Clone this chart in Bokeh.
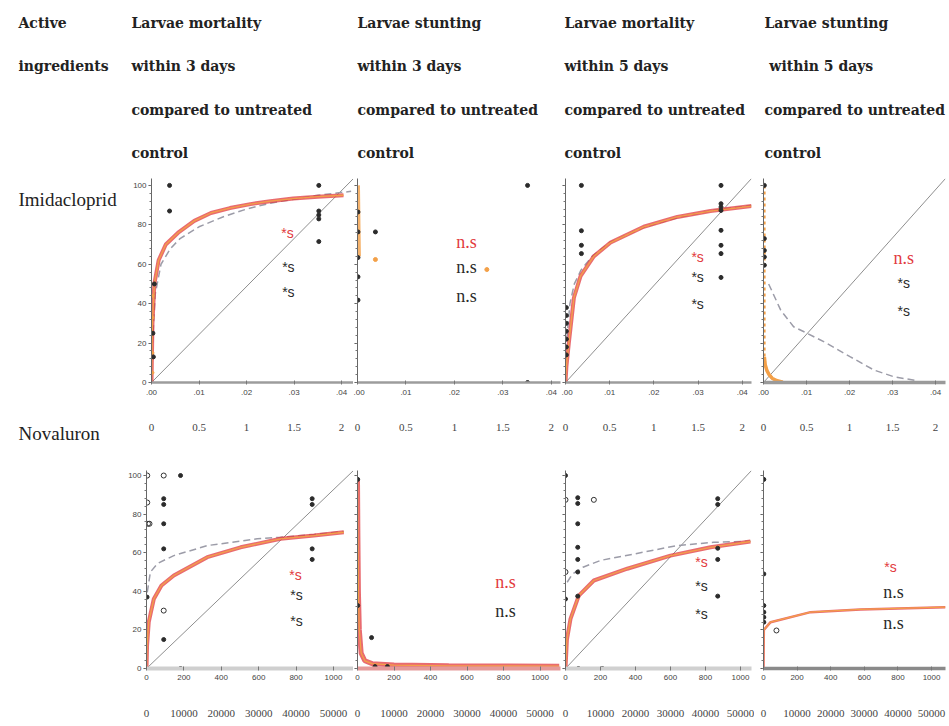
from bokeh.plotting import figure
from bokeh.layouts import row, column
from bokeh.models import Range1d, LinearAxis, FixedTicker
from bokeh.core.properties import value
from bokeh.embed import file_html
from bokeh.resources import INLINE

# ---------------- texts ----------------
row_header = ["Active", "ingredients"]
col_headers = [
    ["Larvae mortality", "within 3 days", "compared to untreated", "control"],
    ["Larvae stunting", "within 3 days", "compared to untreated", "control"],
    ["Larvae mortality", "within 5 days", "compared to untreated", "control"],
    ["Larvae stunting", "\u00a0within 5 days", "compared to untreated", "control"],
]
ingredients = ["Imidacloprid", "Novaluron"]

# ---------------- ticks ----------------
imi_ticks = [0, 0.01, 0.02, 0.03, 0.04]
imi_tick_labels = [".00", ".01", ".02", ".03", ".04"]
imi_alt_ticks = [0, 0.5, 1, 1.5, 2]
imi_alt_labels = ["0", "0.5", "1", "1.5", "2"]
nov_ticks = [0, 200, 400, 600, 800, 1000]
nov_tick_labels = ["0", "200", "400", "600", "800", "1000"]
nov_alt_ticks = [0, 10000, 20000, 30000, 40000, 50000]
nov_alt_labels = ["0", "10000", "20000", "30000", "40000", "50000"]
y_ticks = [0, 20, 40, 60, 80, 100]
y_tick_labels = ["0", "20", "40", "60", "80", "100"]

# ---------------- Imidacloprid, mortality 3 days ----------------
im3_fit_x = [0, 0.0002, 0.0006, 0.0015, 0.003, 0.0056, 0.009, 0.0125, 0.0165, 0.0208, 0.025, 0.0298, 0.035, 0.0404]
im3_fit_y = [0, 30, 50, 62, 70, 76, 82, 86, 88.5, 90.5, 92, 93.3, 94.3, 95]
im3_ref_x = [0.0002, 0.0008, 0.002, 0.004, 0.006, 0.01, 0.015, 0.02, 0.025, 0.03, 0.035, 0.042]
im3_ref_y = [20, 45, 60, 68, 73, 79, 84, 88, 91, 93, 95, 97]
im3_pts_x = [0.0038, 0.0038, 0.0352, 0.0352, 0.0352, 0.0352, 0.0352, 0.0006, 0.0003, 0.0004]
im3_pts_y = [100, 87, 100, 87, 85, 83, 71.5, 50, 25, 13]
im3_org_x = [0.0002, 0.0002, 0.0002, 0.0002]
im3_org_y = [5, 15, 33, 44]
im3_notes = ["*s", "*s", "*s"]
im3_note_x = [0.0286, 0.0288, 0.0288]
im3_note_y = [76, 58.5, 45.8]

# ---------------- Imidacloprid, stunting 3 days ----------------
is3_fit_x = [0.0001, 0.0002, 0.0003]
is3_fit_y = [100, 80, 64]
is3_pts_x = [0.0001, 0.0001, 0.0001, 0.0001, 0.0001, 0.0037, 0.0351, 0.0351]
is3_pts_y = [86.5, 76.4, 63.4, 53.6, 41.8, 76.4, 100, 0]
is3_org_x = [0.0037, 0.0267]
is3_org_y = [62.4, 57.3]
is3_notes = ["n.s", "n.s", "n.s"]
is3_note_x = [0.0225, 0.0225, 0.0225]
is3_note_y = [71.1, 58.5, 43.8]

# ---------------- Imidacloprid, mortality 5 days ----------------
im5_fit_x = [0, 0.0002, 0.00075, 0.0019, 0.0034, 0.0064, 0.0102, 0.0177, 0.0253, 0.0328, 0.0421]
im5_fit_y = [0, 8, 20, 43, 54, 64, 71, 79, 84, 87, 89.5]
im5_ref_x = [0.0003, 0.001, 0.002, 0.0035, 0.006, 0.01, 0.018, 0.026, 0.034, 0.0421]
im5_ref_y = [22, 40, 50, 57, 64, 71, 79, 84, 87.5, 89.8]
im5_pts_x = [0.0036, 0.0036, 0.0036, 0.0036, 0.0352, 0.0352, 0.0352, 0.0352, 0.0352, 0.0352, 0.0352,
             0.0352, 0.0002, 0.0002, 0.0002, 0.0002, 0.0002, 0.0002, 0.0002]
im5_pts_y = [100, 77, 69.6, 65.4, 100, 90.7, 89, 87.3, 77.2, 69.6, 65.4, 53.3, 38, 34, 30, 26, 22, 18, 14]
im5_notes = ["*s", "*s", "*s"]
im5_note_x = [0.0299, 0.0299, 0.0299]
im5_note_y = [63.5, 53.4, 39.7]

# ---------------- Imidacloprid, stunting 5 days ----------------
is5_fit_x = [0.0002, 0.0002, 0.0004, 0.0008, 0.0013, 0.002, 0.003, 0.0045]
is5_fit_y = [100, 13, 9, 6, 4, 2.2, 1, 0.2]
is5_ref_x = [0.0012, 0.004, 0.007, 0.0102, 0.0148, 0.0202, 0.0257, 0.0303, 0.0357]
is5_ref_y = [50, 36.7, 28.3, 24.9, 19.8, 13, 6.3, 2.9, 0.9]
is5_pts_x = [0.0002, 0.0002, 0.0002, 0.0002, 0.0002]
is5_pts_y = [100, 73, 67, 63.7, 59.5]
is5_notes = ["n.s", "*s", "*s"]
is5_note_x = [0.0326, 0.0326, 0.0326]
is5_note_y = [63, 50.4, 36.2]

# ---------------- Novaluron, mortality 3 days ----------------
nm3_fit_x = [0, 3, 12, 39, 80, 146, 325, 503, 717, 895, 1055]
nm3_fit_y = [0, 12, 24, 36, 43, 48.2, 57.7, 62.8, 67.2, 68.9, 70.6]
nm3_ref_x = [4, 21, 60, 146, 325, 592, 717, 900, 1055]
nm3_ref_y = [39.5, 50, 54.5, 58.5, 63.7, 67.2, 68, 69.5, 71]
nm3_pts_x = [182, 92, 92, 92, 92, 886, 886, 886, 886, 92, 182, 3]
nm3_pts_y = [100, 88, 85, 75, 62, 88, 85, 62, 56.5, 15, 0, 37]
nm3_open_x = [4, 92, 4, 8, 16, 92]
nm3_open_y = [100, 100, 86, 75, 75, 30]
nm3_notes = ["*s", "*s", "*s"]
nm3_note_x = [797, 802, 802]
nm3_note_y = [48.7, 38.3, 24.4]

# ---------------- Novaluron, stunting 3 days ----------------
ns3_fit_x = [0, 2, 5, 10, 20, 40, 80, 200, 500, 1105]
ns3_fit_y = [98, 70, 40, 20, 8, 4, 2.5, 1.8, 1.4, 1.2]
ns3_pts_x = [1, 1, 77, 96, 164]
ns3_pts_y = [98, 32.6, 16, 1, 1]
ns3_notes = ["n.s", "n.s"]
ns3_note_x = [811, 811]
ns3_note_y = [45, 30]

# ---------------- Novaluron, mortality 5 days ----------------
nm5_fit_x = [0, 8, 28.6, 76, 162, 353, 600, 829, 1057]
nm5_fit_y = [0, 15, 25.7, 37.8, 45.6, 51.7, 58.5, 62.8, 65.8]
nm5_ref_x = [9.5, 40, 100, 200, 447, 638, 847, 1057]
nm5_ref_y = [44.7, 49, 52.5, 56, 60.3, 63.7, 65.4, 66]
nm5_pts_x = [70, 70, 70, 70, 70, 70, 70, 0, 870, 870, 870, 870, 870, 0, 74, 211]
nm5_pts_y = [88.5, 85.5, 75, 62.8, 56.5, 50, 37.5, 36, 88, 85, 62.3, 56.5, 37.5, 100, 0, 0]
nm5_open_x = [0, 162, 0]
nm5_open_y = [87.4, 87.4, 50]
nm5_notes = ["*s", "*s", "*s"]
nm5_note_x = [777, 777, 777]
nm5_note_y = [55.4, 43, 28.5]

# ---------------- Novaluron, stunting 5 days ----------------
ns5_fit_x = [0, 2, 42, 280, 577, 1083]
ns5_fit_y = [0, 20, 24, 29.2, 30.6, 31.8]
ns5_pts_x = [2, 2, 2, 2, 2, 2]
ns5_pts_y = [98, 49, 32.6, 29.2, 26.6, 24]
ns5_open_x = [77]
ns5_open_y = [19.7]
ns5_notes = ["*s", "n.s", "n.s"]
ns5_note_x = [756, 774, 774]
ns5_note_y = [52.8, 39.4, 23.8]

# ---------------- styles ----------------
RED = "#e23a40"
ORANGE = "#f3a048"
DARK = "#2b2b2b"
GREY_DASH = "#9c9ca8"
NOTE_COLORS = [RED, DARK, DARK]
SERIF = "Liberation Serif"
BOLD_SERIF = "DejaVu Serif"
SANS = "Liberation Sans"


def make_panel(width, height, left, right, top, bottom, x_end, y_end, ticks, tick_labels,
               alt_ticks, alt_labels, show_y_labels, x_line_color, x_line_width,
               std_main, std_alt):
    p = figure(width=width, height=height, x_range=Range1d(0, x_end), y_range=Range1d(0, y_end),
               output_backend="svg", toolbar_location=None,
               min_border_left=left, min_border_right=right,
               min_border_top=top, min_border_bottom=bottom)
    p.outline_line_color = None
    p.grid.visible = False
    p.background_fill_color = "white"
    p.border_fill_color = "white"

    xa = p.xaxis[0]
    xa.ticker = FixedTicker(ticks=ticks)
    xa.major_label_overrides = dict(zip(ticks, tick_labels))
    xa.axis_line_color = x_line_color
    xa.axis_line_width = x_line_width
    xa.major_tick_line_color = "#777777"
    xa.major_tick_in = 2
    xa.major_tick_out = 2
    xa.minor_tick_line_color = None
    xa.minor_tick_out = 0
    xa.minor_tick_in = 0
    xa.major_label_standoff = std_main
    xa.major_label_text_font = SANS
    xa.major_label_text_font_size = "8px"
    xa.major_label_text_color = "#444444"

    ya = p.yaxis[0]
    ya.ticker = FixedTicker(ticks=y_ticks, minor_ticks=list(range(0, 104, 4)))
    ya.axis_line_color = "#666666"
    ya.axis_line_width = 1
    ya.major_tick_line_color = "#555555"
    ya.major_tick_out = 3
    ya.major_tick_in = 0
    ya.minor_tick_line_color = "#777777"
    ya.minor_tick_out = 2
    ya.minor_tick_in = 0
    if show_y_labels:
        ya.major_label_overrides = dict(zip(y_ticks, y_tick_labels))
        ya.major_label_text_font = SANS
        ya.major_label_text_font_size = "8px"
        ya.major_label_text_color = "#444444"
        ya.major_label_standoff = 2
    else:
        ya.major_label_overrides = {t: "" for t in y_ticks}
        ya.major_label_text_font_size = "0px"
        ya.major_label_standoff = 0

    p.extra_x_ranges = {"alt": Range1d(0, x_end * 50)}
    alt = LinearAxis(x_range_name="alt", ticker=FixedTicker(ticks=alt_ticks))
    alt.major_label_overrides = dict(zip(alt_ticks, alt_labels))
    alt.axis_line_color = None
    alt.major_tick_line_color = None
    alt.minor_tick_line_color = None
    alt.major_tick_in = 0
    alt.major_tick_out = 0
    alt.minor_tick_in = 0
    alt.minor_tick_out = 0
    alt.major_label_standoff = std_alt
    alt.major_label_text_font = SERIF
    alt.major_label_text_font_size = "11px"
    alt.major_label_text_color = "#444444"
    p.add_layout(alt, "below")
    return p


def diag(p, x_end, y_end):
    p.line([0, x_end], [0, y_end], color="#8e8e8e", line_width=1)


def fit(p, x, y, w=4.0):
    p.line(x, y, color=RED, line_width=w, alpha=0.75)
    p.line(x, y, color=ORANGE, line_width=1.3)


def ref(p, x, y):
    p.line(x, y, color=GREY_DASH, line_width=1.5, line_dash="7 4")


def dots(p, x, y, color=DARK, size=4):
    p.scatter(x, y, size=size, color=color)


def rings(p, x, y):
    p.scatter(x, y, size=5, fill_color=None, line_color="#333333", line_width=1)


def notes(p, x, y, texts):
    for xi, yi, t, c in zip(x, y, texts, NOTE_COLORS):
        if t.startswith("*"):
            p.text([xi], [yi], text=[t], text_color=c, text_font=value(SANS),
                   text_font_size="14px", text_align="center", text_baseline="middle")
        else:
            p.text([xi], [yi], text=[t], text_color=c, text_font=value(SERIF),
                   text_font_size="18px", text_align="center", text_baseline="middle")


# ---------------- layout geometry ----------------
H1, T1, B1, Y1 = 270, 8, 58, 103.5
H2, T2, B2, Y2 = 286, 30, 58, 102.6
geo1 = [(231, 29, 0, 0.0425), (208, 4, 1, 0.0419), (193, 4, 3, 0.0421), (195, 9, 4, 0.0423)]
geo2 = [(231, 24, 0, 1107), (208, 4, 1, 1112), (193, 4, 3, 1063), (195, 9, 4, 1083)]
xcol1 = ["#9c9c9c", "#9c9c9c", "#9c9c9c", "#9a9a9a"]
xw1 = [2.5, 2.5, 2.5, 3.5]
xcol2 = ["#cfcfcf", "#e59a9a", "#d0d0d0", "#8a8a8a"]
xw2 = [4, 4, 4, 3.5]

r1 = []
for i, (w, l, r, xe) in enumerate(geo1):
    r1.append(make_panel(w, H1, l, r, T1, B1, xe, Y1, imi_ticks, imi_tick_labels,
                         imi_alt_ticks, imi_alt_labels, i == 0, xcol1[i], xw1[i], 5, 26))
r2 = []
for i, (w, l, r, xe) in enumerate(geo2):
    r2.append(make_panel(w, H2, l, r, T2, B2, xe, Y2, nov_ticks, nov_tick_labels,
                         nov_alt_ticks, nov_alt_labels, i == 0, xcol2[i], xw2[i], 4, 27))

# row 1 content
p = r1[0]
diag(p, geo1[0][3], Y1)
ref(p, im3_ref_x, im3_ref_y)
fit(p, im3_fit_x, im3_fit_y)
dots(p, im3_org_x, im3_org_y, ORANGE, 3)
dots(p, im3_pts_x, im3_pts_y)
notes(p, im3_note_x, im3_note_y, im3_notes)

p = r1[1]
p.line(is3_fit_x, is3_fit_y, color=ORANGE, line_width=4, alpha=0.8)
dots(p, is3_pts_x, is3_pts_y)
dots(p, is3_org_x, is3_org_y, ORANGE, 4)
notes(p, is3_note_x, is3_note_y, is3_notes)

p = r1[2]
diag(p, geo1[2][3], Y1)
ref(p, im5_ref_x, im5_ref_y)
fit(p, im5_fit_x, im5_fit_y)
dots(p, im5_pts_x, im5_pts_y)
notes(p, im5_note_x, im5_note_y, im5_notes)

p = r1[3]
diag(p, geo1[3][3], Y1)
ref(p, is5_ref_x, is5_ref_y)
p.line(is5_fit_x, is5_fit_y, color=ORANGE, line_width=2.5, line_dash="3 3")
p.line(is5_fit_x[1:], is5_fit_y[1:], color=ORANGE, line_width=3.5)
dots(p, is5_pts_x, is5_pts_y)
notes(p, is5_note_x, is5_note_y, is5_notes)

# row 2 content
p = r2[0]
diag(p, geo2[0][3], Y2)
ref(p, nm3_ref_x, nm3_ref_y)
fit(p, nm3_fit_x, nm3_fit_y)
dots(p, nm3_pts_x, nm3_pts_y)
rings(p, nm3_open_x, nm3_open_y)
notes(p, nm3_note_x, nm3_note_y, nm3_notes)

p = r2[1]
fit(p, ns3_fit_x, ns3_fit_y, 5)
dots(p, ns3_pts_x, ns3_pts_y)
notes(p, ns3_note_x, ns3_note_y, ns3_notes)

p = r2[2]
diag(p, geo2[2][3], Y2)
ref(p, nm5_ref_x, nm5_ref_y)
fit(p, nm5_fit_x, nm5_fit_y)
dots(p, nm5_pts_x, nm5_pts_y)
rings(p, nm5_open_x, nm5_open_y)
notes(p, nm5_note_x, nm5_note_y, nm5_notes)

p = r2[3]
fit(p, ns5_fit_x, ns5_fit_y, 2.5)
dots(p, ns5_pts_x, ns5_pts_y)
rings(p, ns5_open_x, ns5_open_y)
notes(p, ns5_note_x, ns5_note_y, ns5_notes)


def text_canvas(w, h, x0):
    c = figure(width=w, height=h, x_range=Range1d(x0, x0 + w), y_range=Range1d(h, 0),
               output_backend="svg", toolbar_location=None, min_border=0)
    c.axis.visible = False
    c.grid.visible = False
    c.outline_line_color = None
    return c


# left column: row header and ingredient names
left = text_canvas(122, 726, 0)
left.text([18, 18], [22, 65], text=row_header, text_font=value(BOLD_SERIF), text_font_style="bold",
          text_font_size="14px", text_color="#222222", text_baseline="middle")
left.text([18, 18], [199, 433], text=ingredients, text_font=value(SERIF),
          text_font_size="19px", text_color="#222222", text_baseline="middle")

# header with the four column titles
head = text_canvas(827, 170, 122)
col_x = [131, 357, 564, 764]
line_y = [22, 65, 109, 152]
for cx, lines in zip(col_x, col_headers):
    head.text([cx] * len(lines), line_y, text=lines, text_font=value(BOLD_SERIF), text_font_style="bold",
              text_font_size="14px", text_color="#222222", text_baseline="middle")

layout = row(left, column(head, row(*r1), row(*r2)))

open("out.html", "w").write(file_html(layout, INLINE))
